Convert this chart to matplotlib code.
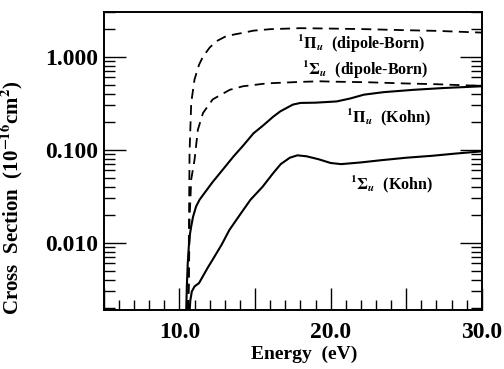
import matplotlib
matplotlib.use("Agg")
import matplotlib.pyplot as plt
from matplotlib.ticker import FixedLocator, MultipleLocator, LogLocator, NullFormatter, FuncFormatter

plt.rcParams["font.family"] = ["Liberation Serif", "DejaVu Serif"]
plt.rcParams["font.weight"] = "bold"
plt.rcParams["mathtext.fontset"] = "stix"

# Energy (eV) / cross section (10^-16 cm^2)
pi_born_e = [10.55, 10.60, 10.67, 10.78, 11.0, 11.3, 11.56, 12.0, 12.44, 13.0, 13.56,
             14.2, 14.9, 16.0, 18.0, 20.0, 22.4, 25.0, 27.0, 30.0]
pi_born_s = [0.0019, 0.0034, 0.093, 0.32, 0.57, 0.82, 1.0, 1.25, 1.46, 1.63, 1.72,
             1.80, 1.90, 1.97, 2.02, 2.0, 1.97, 1.92, 1.89, 1.81]

sig_born_e = [10.58, 10.63, 10.67, 10.78, 11.0, 11.22, 11.56, 12.2, 13.33, 14.2, 15.8,
              18.0, 19.3, 20.2, 22.5, 24.7, 27.0, 30.0]
sig_born_s = [0.0019, 0.004, 0.018, 0.048, 0.078, 0.164, 0.248, 0.347, 0.44, 0.48, 0.516,
              0.535, 0.543, 0.538, 0.53, 0.516, 0.505, 0.484]

pi_kohn_e = [10.45, 10.49, 10.55, 10.62, 10.70, 10.78, 10.9, 11.1, 11.33, 11.7, 12.2,
             12.9, 13.56, 14.2, 14.9, 15.5, 16.2, 16.67, 17.5, 18.0, 19.0, 20.4, 21.3,
             22.2, 23.5, 25.5, 27.5, 30.0]
pi_kohn_s = [0.0019, 0.0034, 0.006, 0.0091, 0.0125, 0.015, 0.019, 0.0245, 0.029, 0.035, 0.045,
             0.062, 0.084, 0.11, 0.15, 0.18, 0.226, 0.258, 0.305, 0.318, 0.32, 0.33, 0.355,
             0.39, 0.415, 0.44, 0.46, 0.48]

sig_kohn_e = [10.68, 10.72, 10.82, 11.0, 11.3, 11.56, 11.9, 12.2, 12.8, 13.3, 14.0, 14.7,
              15.5, 16.2, 16.7, 17.3, 17.8, 18.4, 19.2, 20.0, 20.7, 22.0, 23.3, 25.0, 26.7,
              28.3, 30.0]
sig_kohn_s = [0.0019, 0.0024, 0.0030, 0.0034, 0.0037, 0.0044, 0.0055, 0.0066, 0.0096, 0.0137,
              0.020, 0.029, 0.040, 0.056, 0.07, 0.082, 0.087, 0.085, 0.079, 0.072, 0.070,
              0.073, 0.077, 0.082, 0.086, 0.091, 0.096]

labels = [r"$^1\Pi_u$  (dipole-Born)", r"$^1\Sigma_u$  (dipole-Born)",
          r"$^1\Pi_u$  (Kohn)", r"$^1\Sigma_u$  (Kohn)"]
label_pos = [(17.8, 1.38), (18.1, 0.72), (21.0, 0.22), (21.3, 0.042)]

fig = plt.figure(figsize=(5.04, 3.69), dpi=100)
ax = fig.add_axes([0.206, 0.160, 0.750, 0.807])

ax.plot(pi_born_e, pi_born_s, color="black", lw=1.3, dashes=(5.5, 3.5))
ax.plot(sig_born_e, sig_born_s, color="black", lw=1.3, dashes=(5.5, 3.5))
ax.plot(pi_kohn_e, pi_kohn_s, color="black", lw=1.5)
ax.plot(sig_kohn_e, sig_kohn_s, color="black", lw=1.5)

for txt, (x, y) in zip(labels, label_pos):
    ax.text(x, y, txt, fontsize=11.5, fontweight="bold", va="center", ha="left")

ax.set_yscale("log")
ax.set_xlim(5, 30)
ax.set_ylim(0.0019, 3.0)

ax.xaxis.set_major_locator(MultipleLocator(5))
ax.xaxis.set_minor_locator(MultipleLocator(1))
ax.xaxis.set_major_formatter(FuncFormatter(lambda v, p: f"{v:.1f}" if v % 10 == 0 else ""))
ax.yaxis.set_major_locator(FixedLocator([0.01, 0.1, 1.0]))
ax.yaxis.set_minor_locator(LogLocator(base=10, subs=range(2, 10)))
ax.yaxis.set_minor_formatter(NullFormatter())
ax.yaxis.set_major_formatter(FuncFormatter(lambda v, p: f"{v:.3f}"))

ax.tick_params(axis="x", which="both", direction="in", top=False, bottom=True, width=1.0)
ax.tick_params(axis="x", which="major", length=16, pad=9, labelsize=17)
ax.tick_params(axis="x", which="minor", length=7)
ax.tick_params(axis="y", which="both", direction="in", left=True, right=True, width=1.0)
ax.tick_params(axis="y", which="major", length=16, pad=4, labelsize=17)
ax.tick_params(axis="y", which="minor", length=8)
for lab in ax.get_xticklabels() + ax.get_yticklabels():
    lab.set_fontweight("bold")
for s in ax.spines.values():
    s.set_linewidth(1.4)

ax.set_xlabel("Energy  (eV)", fontsize=14, fontweight="bold")
ax.xaxis.set_label_coords(0.529, -0.12)
ax.set_ylabel(r"Cross  Section  (10$^{-16}$cm$^2$)", fontsize=15, fontweight="bold")
ax.yaxis.set_label_coords(-0.205, 0.376)

fig.savefig("out.png", dpi=100)
